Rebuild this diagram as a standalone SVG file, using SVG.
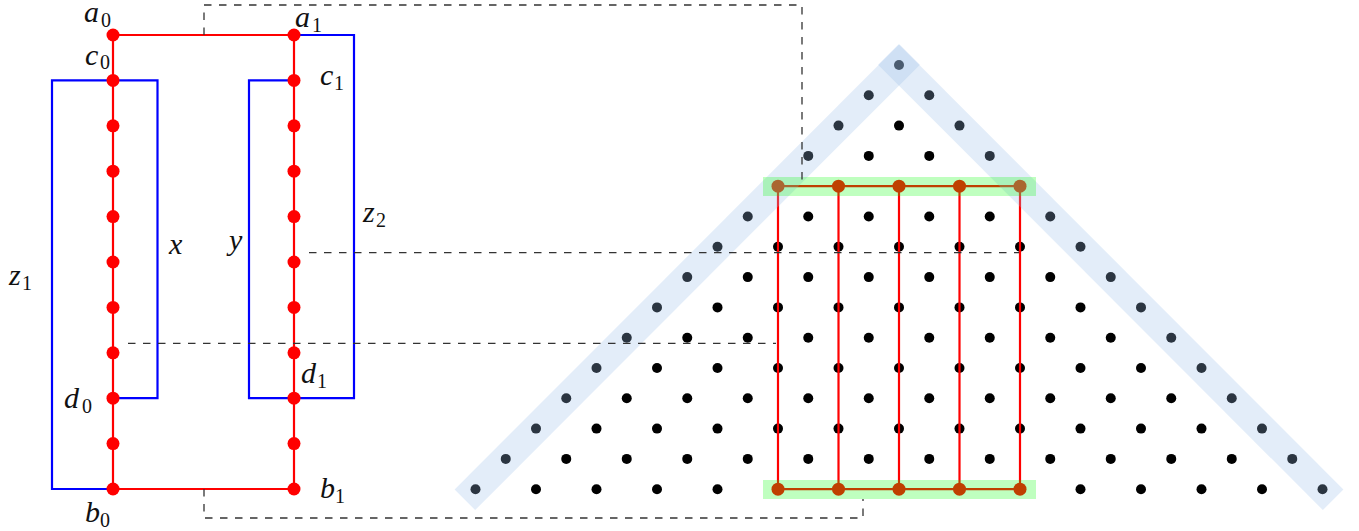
<svg xmlns="http://www.w3.org/2000/svg" width="1359" height="531" viewBox="0 0 1359 531">
<style>
.red{fill:none;stroke:#ff0000;stroke-width:2.2}
.blue{fill:none;stroke:#0000ff;stroke-width:2.2}
.dash{fill:none;stroke:#333;stroke-width:1.3;stroke-dasharray:7.5 7.5}
.rd{fill:#ff0000}
.bd{fill:#000}
.lbl{font-family:"Liberation Serif","DejaVu Serif",serif;font-style:italic;font-size:30px;fill:#111}
.sub{font-style:normal;font-size:20px}
.band{stroke:#9cbde9;stroke-opacity:0.28;stroke-width:29;fill:none;stroke-linecap:butt}
.green{fill:#00ff00;fill-opacity:0.25}
</style>
<rect width="1359" height="531" fill="#fff"/>

<g id="connectors">
<path class="blue" d="M113,398.2 H157.5 V80.4 H52 V489 H113"/>
<path class="blue" d="M294,35 H354 V398.2 H249 V80.4 H294"/>
<path class="red" d="M113,35 H294 V489 H113 Z"/>
</g>

<g id="left-chain-0">
<g id="node-a0"><circle class="rd" cx="113" cy="35" r="6.5"/><text class="lbl" x="84" y="22">a<tspan class="sub" x="101" y="27">0</tspan></text></g>
<g id="node-c0"><circle class="rd" cx="113" cy="80.4" r="6.5"/><text class="lbl" x="85" y="65">c<tspan class="sub" x="100" y="69">0</tspan></text></g>
<circle class="rd" cx="113" cy="125.8" r="6.5"/>
<circle class="rd" cx="113" cy="171.2" r="6.5"/>
<circle class="rd" cx="113" cy="216.6" r="6.5"/>
<circle class="rd" cx="113" cy="262" r="6.5"/>
<circle class="rd" cx="113" cy="307.4" r="6.5"/>
<circle class="rd" cx="113" cy="352.8" r="6.5"/>
<g id="node-d0"><circle class="rd" cx="113" cy="398.2" r="6.5"/><text class="lbl" x="64" y="408">d<tspan class="sub" x="82" y="413">0</tspan></text></g>
<circle class="rd" cx="113" cy="443.6" r="6.5"/>
<g id="node-b0"><circle class="rd" cx="113" cy="489" r="6.5"/><text class="lbl" x="85" y="522">b<tspan class="sub" x="100" y="527">0</tspan></text></g>
</g>

<g id="left-chain-1">
<g id="node-a1"><circle class="rd" cx="294" cy="35" r="6.5"/><text class="lbl" x="295" y="27">a<tspan class="sub" x="312" y="32">1</tspan></text></g>
<g id="node-c1"><circle class="rd" cx="294" cy="80.4" r="6.5"/><text class="lbl" x="320" y="85">c<tspan class="sub" x="334" y="90">1</tspan></text></g>
<circle class="rd" cx="294" cy="125.8" r="6.5"/>
<circle class="rd" cx="294" cy="171.2" r="6.5"/>
<circle class="rd" cx="294" cy="216.6" r="6.5"/>
<circle class="rd" cx="294" cy="262" r="6.5"/>
<circle class="rd" cx="294" cy="307.4" r="6.5"/>
<circle class="rd" cx="294" cy="352.8" r="6.5"/>
<g id="node-d1"><circle class="rd" cx="294" cy="398.2" r="6.5"/><text class="lbl" x="301" y="383">d<tspan class="sub" x="317" y="388">1</tspan></text></g>
<circle class="rd" cx="294" cy="443.6" r="6.5"/>
<g id="node-b1"><circle class="rd" cx="294" cy="489" r="6.5"/><text class="lbl" x="320" y="498">b<tspan class="sub" x="335" y="503">1</tspan></text></g>
</g>

<g id="loop-labels">
<text id="label-x" class="lbl" x="169" y="254">x</text>
<text id="label-y" class="lbl" x="229" y="250">y</text>
<text id="label-z1" class="lbl" x="9" y="285">z<tspan class="sub" x="22" y="290">1</tspan></text>
<text id="label-z2" class="lbl" x="363" y="222">z<tspan class="sub" x="376" y="227">2</tspan></text>
</g>

<g id="lattice" class="bd">
<g transform="translate(0,65)"><circle cx="899" r="5"/></g>
<g transform="translate(0,95.3)"><circle cx="868.75" r="5"/><circle cx="929.25" r="5"/></g>
<g transform="translate(0,125.6)"><circle cx="838.5" r="5"/><circle cx="899" r="5"/><circle cx="959.5" r="5"/></g>
<g transform="translate(0,155.9)"><circle cx="808.25" r="5"/><circle cx="868.75" r="5"/><circle cx="929.25" r="5"/><circle cx="989.75" r="5"/></g>
<g transform="translate(0,216.5)"><circle cx="747.75" r="5"/><circle cx="808.25" r="5"/><circle cx="868.75" r="5"/><circle cx="929.25" r="5"/><circle cx="989.75" r="5"/><circle cx="1050.25" r="5"/></g>
<g transform="translate(0,246.8)"><circle cx="717.5" r="5"/><circle cx="778" r="5"/><circle cx="838.5" r="5"/><circle cx="899" r="5"/><circle cx="959.5" r="5"/><circle cx="1020" r="5"/><circle cx="1080.5" r="5"/></g>
<g transform="translate(0,277.1)"><circle cx="687.25" r="5"/><circle cx="747.75" r="5"/><circle cx="808.25" r="5"/><circle cx="868.75" r="5"/><circle cx="929.25" r="5"/><circle cx="989.75" r="5"/><circle cx="1050.25" r="5"/><circle cx="1110.75" r="5"/></g>
<g transform="translate(0,307.4)"><circle cx="657" r="5"/><circle cx="717.5" r="5"/><circle cx="778" r="5"/><circle cx="838.5" r="5"/><circle cx="899" r="5"/><circle cx="959.5" r="5"/><circle cx="1020" r="5"/><circle cx="1080.5" r="5"/><circle cx="1141" r="5"/></g>
<g transform="translate(0,337.7)"><circle cx="626.75" r="5"/><circle cx="687.25" r="5"/><circle cx="747.75" r="5"/><circle cx="808.25" r="5"/><circle cx="868.75" r="5"/><circle cx="929.25" r="5"/><circle cx="989.75" r="5"/><circle cx="1050.25" r="5"/><circle cx="1110.75" r="5"/><circle cx="1171.25" r="5"/></g>
<g transform="translate(0,368)"><circle cx="596.5" r="5"/><circle cx="657" r="5"/><circle cx="717.5" r="5"/><circle cx="778" r="5"/><circle cx="838.5" r="5"/><circle cx="899" r="5"/><circle cx="959.5" r="5"/><circle cx="1020" r="5"/><circle cx="1080.5" r="5"/><circle cx="1141" r="5"/><circle cx="1201.5" r="5"/></g>
<g transform="translate(0,398.3)"><circle cx="566.25" r="5"/><circle cx="626.75" r="5"/><circle cx="687.25" r="5"/><circle cx="747.75" r="5"/><circle cx="808.25" r="5"/><circle cx="868.75" r="5"/><circle cx="929.25" r="5"/><circle cx="989.75" r="5"/><circle cx="1050.25" r="5"/><circle cx="1110.75" r="5"/><circle cx="1171.25" r="5"/><circle cx="1231.75" r="5"/></g>
<g transform="translate(0,428.6)"><circle cx="536" r="5"/><circle cx="596.5" r="5"/><circle cx="657" r="5"/><circle cx="717.5" r="5"/><circle cx="778" r="5"/><circle cx="838.5" r="5"/><circle cx="899" r="5"/><circle cx="959.5" r="5"/><circle cx="1020" r="5"/><circle cx="1080.5" r="5"/><circle cx="1141" r="5"/><circle cx="1201.5" r="5"/><circle cx="1262" r="5"/></g>
<g transform="translate(0,458.9)"><circle cx="505.75" r="5"/><circle cx="566.25" r="5"/><circle cx="626.75" r="5"/><circle cx="687.25" r="5"/><circle cx="747.75" r="5"/><circle cx="808.25" r="5"/><circle cx="868.75" r="5"/><circle cx="929.25" r="5"/><circle cx="989.75" r="5"/><circle cx="1050.25" r="5"/><circle cx="1110.75" r="5"/><circle cx="1171.25" r="5"/><circle cx="1231.75" r="5"/><circle cx="1292.25" r="5"/></g>
<g transform="translate(0,489.2)"><circle cx="475.5" r="5"/><circle cx="536" r="5"/><circle cx="596.5" r="5"/><circle cx="657" r="5"/><circle cx="717.5" r="5"/><circle cx="1080.5" r="5"/><circle cx="1141" r="5"/><circle cx="1201.5" r="5"/><circle cx="1262" r="5"/><circle cx="1322.5" r="5"/></g>
</g>

<g id="lattice-red-lines">
<path class="red" d="M778,186.2 H1020 M778,489.2 H1020 M778,186.2 V489.2 M838.5,186.2 V489.2 M899,186.2 V489.2 M959.5,186.2 V489.2 M1020,186.2 V489.2"/>
</g>

<g id="lattice-red-dots" class="rd">
<circle cx="778" cy="186.2" r="6.5"/><circle cx="838.5" cy="186.2" r="6.5"/><circle cx="899" cy="186.2" r="6.5"/><circle cx="959.5" cy="186.2" r="6.5"/><circle cx="1020" cy="186.2" r="6.5"/>
<circle cx="778" cy="489.2" r="6.5"/><circle cx="838.5" cy="489.2" r="6.5"/><circle cx="899" cy="489.2" r="6.5"/><circle cx="959.5" cy="489.2" r="6.5"/><circle cx="1020" cy="489.2" r="6.5"/>
</g>

<g id="bands">
<line class="band" x1="464.9" y1="499.8" x2="909.6" y2="54.4"/>
<line class="band" x1="1333.1" y1="499.8" x2="888.4" y2="54.4"/>
<rect class="green" x="763" y="177" width="273" height="19"/>
<rect class="green" x="763" y="480" width="273" height="19"/>
</g>

<g id="dashed-connectors">
<path class="dash" d="M204,35 V5 H802 V186.2"/>
<path class="dash" d="M309,252.6 H1019"/>
<path class="dash" d="M128,343.3 H776"/>
<path class="dash" d="M204,489 V518 H863 V499"/>
</g>
</svg>
